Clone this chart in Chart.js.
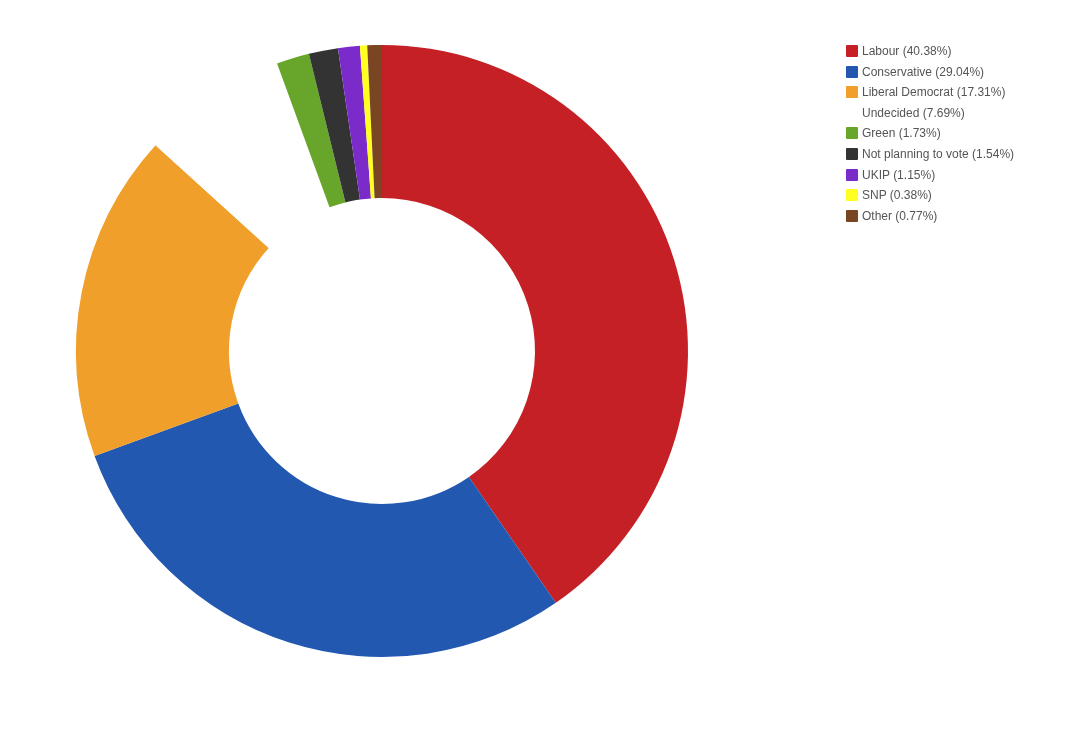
<!DOCTYPE html>
<html>
<head>
<meta charset="utf-8">
<script src="https://cdn.jsdelivr.net/npm/chart.js@4.4.0/dist/chart.umd.min.js"></script>
<style>
  html, body { margin: 0; padding: 0; background: #fff; }
  #wrap { position: relative; width: 1082px; height: 741px; }
  #myChart { position: absolute; left: 0; top: 0; }
  #legend { position: absolute; left: 846px; top: 45px; font-family: "Liberation Sans", Arial, sans-serif; font-size: 12px; color: #555; }
  #legend div { height: 20.6px; line-height: 13px; white-space: nowrap; }
  #legend span.box { display: inline-block; width: 12px; height: 12px; margin-right: 4px; vertical-align: top; border-radius: 1px; }
</style>
</head>
<body>
<div id="wrap">
  <canvas id="myChart" width="1082" height="741"></canvas>
  <div id="legend"></div>
</div>
<script>
// Datos de la encuesta
const partidos = ['Labour', 'Conservative', 'Liberal Democrat', 'Undecided', 'Green', 'Not planning to vote', 'UKIP', 'SNP', 'Other'];
const porcentajes = [40.38, 29.04, 17.31, 7.69, 1.73, 1.54, 1.15, 0.38, 0.77];
const colores = ['#c52025', '#2258b0', '#f0a02a', '#ffffff', '#67a62a', '#333333', '#7a2bc9', '#ffff22', '#7a4522'];

// Leyenda en HTML
const legend = document.getElementById('legend');
partidos.forEach((p, i) => {
  const row = document.createElement('div');
  const box = document.createElement('span');
  box.className = 'box';
  box.style.background = colores[i];
  row.appendChild(box);
  row.appendChild(document.createTextNode(p + ' (' + porcentajes[i].toFixed(2) + '%)'));
  legend.appendChild(row);
});

// Crea el gráfico
const ctx = document.getElementById('myChart').getContext('2d');
const myChart = new Chart(ctx, {
  type: 'doughnut',
  data: {
    labels: partidos,
    datasets: [{
      data: porcentajes,
      backgroundColor: colores,
      borderWidth: 0,
      hoverOffset: 0
    }]
  },
  options: {
    responsive: false,
    animation: false,
    cutout: '50%',
    layout: { padding: { left: 76, right: 394, top: 45, bottom: 84 } },
    plugins: {
      legend: { display: false },
      tooltip: { enabled: false }
    }
  }
});
</script>
</body>
</html>
